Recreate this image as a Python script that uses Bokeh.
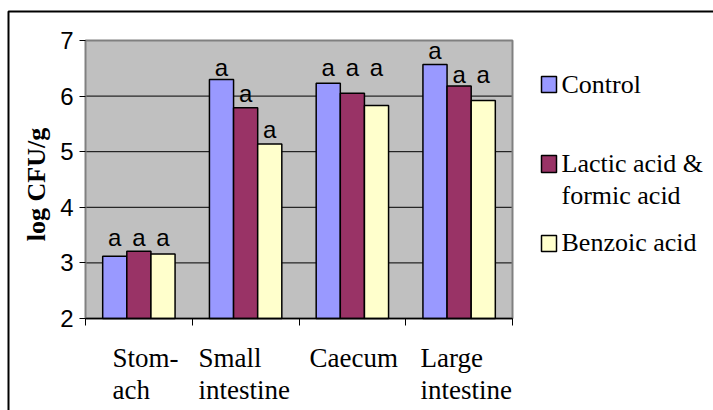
from bokeh.plotting import figure
from bokeh.models import Range1d, FixedTicker, LinearAxis, ColumnDataSource
from bokeh.embed import file_html
from bokeh.resources import INLINE
from bokeh.core.properties import value

# ---- data ----
categories = ["Stom-\nach", "Small\nintestine", "Caecum", "Large\nintestine"]
series_names = ["Control", "Lactic acid &\nformic acid", "Benzoic acid"]
control = [3.12, 6.30, 6.23, 6.57]
lactic_formic = [3.21, 5.79, 6.05, 6.18]
benzoic = [3.16, 5.14, 5.83, 5.92]
letters_control = ["a", "a", "a", "a"]
letters_lactic = ["a", "a", "a", "a"]
letters_benzoic = ["a", "a", "a", "a"]
# letter baselines (in log CFU/g units) as placed in the reference
letter_y_control = [3.31, 6.37, 6.37, 6.68]
letter_y_lactic = [3.31, 5.91, 6.37, 6.25]
letter_y_benzoic = [3.31, 5.26, 6.37, 6.25]
y_ticks = [2, 3, 4, 5, 6, 7]
y_label = "log CFU/g"

colors = ["#9999FF", "#993366", "#FFFFCC"]
values = [control, lactic_formic, benzoic]
letters = [letters_control, letters_lactic, letters_benzoic]
letter_ys = [letter_y_control, letter_y_lactic, letter_y_benzoic]

n = len(categories)
y_min, y_max = y_ticks[0], y_ticks[-1]

# ---- layout: plot area in canvas pixels ----
W, H = 713, 410
PA_L, PA_R, PA_T, PA_B = 85, 512, 40, 318
sx = (PA_R - PA_L) / n
sy = (PA_B - PA_T) / (y_max - y_min)
TXT_SHIFT = 8  # renderer draws alphabetic baselines this many px low


def xpx(px):
    return (px - PA_L) / sx


def ypx(py):
    return y_min + (PA_B - py) / sy


def ybase(py):
    return ypx(py - TXT_SHIFT)


bar_w = 0.226
offsets = [-bar_w, 0.0, bar_w]

p = figure(width=W, height=H, output_backend="svg", toolbar_location=None,
           x_range=Range1d(xpx(0), xpx(W)), y_range=Range1d(ypx(H), ypx(0)),
           x_axis_location=None, y_axis_location=None,
           min_border_left=0, min_border_right=0, min_border_top=0,
           min_border_bottom=0)
p.min_border = 0
p.outline_line_color = None
p.background_fill_color = "white"
p.border_fill_color = "white"
p.xgrid.visible = False
p.ygrid.visible = False

# plot area
p.quad(left=[0], right=[n], bottom=[y_min], top=[y_max], fill_color="#C0C0C0",
       line_color=None)
grid_y = y_ticks[1:-1]
p.segment(x0=[0] * len(grid_y), x1=[n] * len(grid_y), y0=grid_y, y1=grid_y,
          line_color="black", line_width=1)
p.quad(left=[0], right=[n], bottom=[y_min], top=[y_max], fill_color=None,
       line_color="#808080", line_width=2)

for s in range(3):
    xs = [i + 0.5 + offsets[s] for i in range(n)]
    ly = [v + TXT_SHIFT / sy for v in letter_ys[s]]
    src = ColumnDataSource(dict(x=xs, top=values[s], let=letters[s], ly=ly))
    p.vbar(x="x", top="top", bottom=y_min, width=bar_w, source=src,
           fill_color=colors[s], line_color="black", line_width=1.5)
    p.text(x="x", y="ly", text="let", source=src, text_align="center",
           text_baseline="alphabetic", text_font=value("Liberation Sans"),
           text_font_size="24px", text_color="black")

# y axis (bounds reach a little below the plot area so that the title sits
# where the reference has it; the line itself is left to the plot-area border)
yax = LinearAxis(fixed_location=0, bounds=(y_min - 0.18, y_max),
                 ticker=FixedTicker(ticks=y_ticks))
yax.axis_line_color = None
yax.major_tick_line_color = "black"
yax.major_tick_out = 6
yax.major_tick_in = 0
yax.minor_tick_line_color = None
yax.major_label_text_font = "Liberation Sans"
yax.major_label_text_font_size = "24px"
yax.major_label_text_color = "black"
yax.major_label_standoff = 6
yax.axis_label = y_label
yax.axis_label_text_font = "Liberation Serif"
yax.axis_label_text_font_style = "bold"
yax.axis_label_text_font_size = "26px"
yax.axis_label_text_color = "black"
yax.axis_label_standoff = 6
p.add_layout(yax, "left")

# x axis: tick marks at category boundaries
xax = LinearAxis(fixed_location=y_min, bounds=(0, n),
                 ticker=FixedTicker(ticks=[], minor_ticks=list(range(n + 1))))
xax.axis_line_color = "black"
xax.axis_line_width = 1.5
xax.major_tick_line_color = None
xax.minor_tick_line_color = "black"
xax.minor_tick_out = 7
xax.minor_tick_in = 0
xax.major_label_text_font_size = "0px"
p.add_layout(xax, "below")

# category labels: left aligned lines, as in the reference
cat_left_px = [112, 198, 309, 420]
line_base_px = [365, 397]
cx, cy, ct = [], [], []
for i, cat in enumerate(categories):
    for j, line in enumerate(cat.split("\n")):
        cx.append(xpx(cat_left_px[i]))
        cy.append(ybase(line_base_px[j]))
        ct.append(line)
p.text(x=cx, y=cy, text=ct, text_align="left", text_baseline="alphabetic",
       text_font=value("Liberation Serif"), text_font_size="27px",
       text_color="black")

# legend
sw_l, sw_r = 541, 556
sw_tb = [(76, 92), (155, 172), (235, 251)]
p.quad(left=[xpx(sw_l)] * 3, right=[xpx(sw_r)] * 3,
       top=[ypx(t) for t, b in sw_tb], bottom=[ypx(b) for t, b in sw_tb],
       fill_color=colors, line_color="black", line_width=1.5)
leg_text, leg_base = [], []
leg_base_px = [[92], [171, 203], [250]]
for name, bases in zip(series_names, leg_base_px):
    for line, b in zip(name.split("\n"), bases):
        leg_text.append(line)
        leg_base.append(ybase(b))
p.text(x=[xpx(561)] * len(leg_text), y=leg_base, text=leg_text, text_align="left",
       text_baseline="alphabetic", text_font=value("Liberation Serif"),
       text_font_size="26px", text_color="black")

# outer chart border (only its top and left edges fall inside the picture)
p.line(x=[xpx(W + 5), xpx(8), xpx(8)], y=[ypx(11), ypx(11), ypx(H + 5)],
       line_color="black", line_width=2)

open("out.html", "w").write(file_html(p, INLINE))
